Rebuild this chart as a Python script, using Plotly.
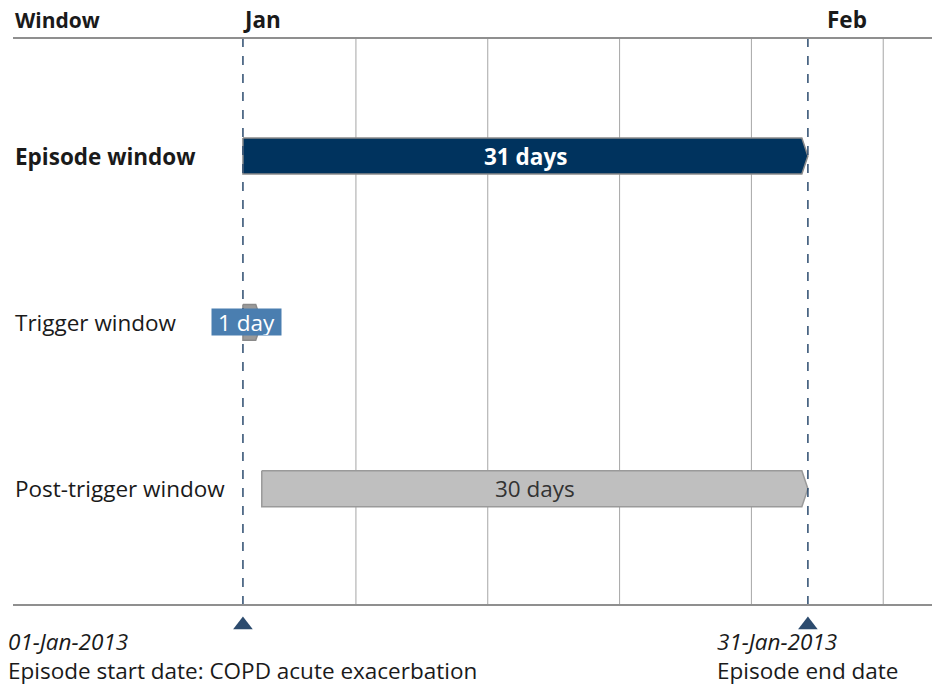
import pandas as pd
import plotly.graph_objects as go

# ---- data ----
windows = ["Episode window", "Trigger window", "Post-trigger window"]
starts = ["2013-01-01", "2013-01-01", "2013-01-02"]
ends = ["2013-01-31", "2013-01-02", "2013-01-31"]
durations = ["31 days", "1 day", "30 days"]
row_pos = [2, 1, 0]
event_dates = ["2013-01-01", "2013-01-31"]
event_dates_text = ["01-Jan-2013", "31-Jan-2013"]
event_labels = ["Episode start date: COPD acute exacerbation", "Episode end date"]
month_ticks = ["2013-01-01", "2013-02-01"]
month_labels = ["Jan", "Feb"]
grid_dates = ["2013-01-07", "2013-01-14", "2013-01-21", "2013-01-28", "2013-02-04"]

# ---- styling ----
FONT = "Open Sans"
FS = 22.5
TXT = "#1a1a1a"
HALF_H = 0.108
TIP = pd.Timedelta(hours=7.7)
Y_LO, Y_HI = -1.0, 2.71       # axis range
Y_RULE = -0.7                 # bottom rule
Y_TRI = -0.82
P_HEAD = 1.0292               # paper positions
P_EVENT = -0.002

fills = ["#00335e", "#9a9a9a", "#bfbfbf"]
lines = ["#8a8a8a", "#8a8a8a", "#9a9a9a"]

fig = go.Figure()

# gridlines
for g in grid_dates:
    fig.add_shape(type="line", xref="x", yref="y", x0=g, x1=g, y0=Y_RULE, y1=Y_HI,
                  line=dict(color="#a6a6a6", width=1), layer="below")

# bars as arrow polygons
for i, (s, e, y) in enumerate(zip(starts, ends, row_pos)):
    s_ts, e_ts = pd.Timestamp(s), pd.Timestamp(e)
    xs = [s_ts, e_ts - TIP, e_ts, e_ts - TIP, s_ts, s_ts]
    ys = [y + HALF_H, y + HALF_H, y, y - HALF_H, y - HALF_H, y + HALF_H]
    fig.add_trace(go.Scatter(x=xs, y=ys, mode="lines", fill="toself",
                             fillcolor=fills[i], line=dict(color=lines[i], width=1.5),
                             hoverinfo="skip", showlegend=False))

# dashed event lines
for d in event_dates:
    fig.add_shape(type="line", xref="x", yref="y", x0=d, x1=d, y0=Y_RULE, y1=Y_HI,
                  line=dict(color="#2c4b6e", width=1.5, dash="dash"), layer="above")

# triangles under axis
fig.add_trace(go.Scatter(x=event_dates, y=[Y_TRI] * len(event_dates), mode="markers",
                         marker=dict(symbol="triangle-up", size=17, color="#2c4b6e"),
                         hoverinfo="skip", showlegend=False))

# duration labels
lab_styles = [
    dict(color="white", bold=True, bg=None),
    dict(color="white", bold=False, bg="#4a7eb0"),
    dict(color="#333333", bold=False, bg=None),
]
for i, (s, e, y, t) in enumerate(zip(starts, ends, row_pos, durations)):
    s_ts, e_ts = pd.Timestamp(s), pd.Timestamp(e)
    st = lab_styles[i]
    txt = f"<b>{t}</b>" if st["bold"] else t
    if st["bg"]:
        xm = s_ts + (e_ts - s_ts) * 0.19
        fig.add_annotation(x=xm, y=y, xref="x", yref="y", text=txt, showarrow=False,
                           font=dict(family=FONT, size=FS, color=st["color"]),
                           bgcolor=st["bg"], borderpad=0, width=69, height=26,
                           xanchor="center", yanchor="middle", valign="middle")
    else:
        xm = s_ts + (e_ts - s_ts) / 2
        fig.add_annotation(x=xm, y=y, xref="x", yref="y", text=txt, showarrow=False,
                           font=dict(family=FONT, size=FS, color=st["color"]),
                           xanchor="center", yanchor="middle")

# row labels
for i, (w, y) in enumerate(zip(windows, row_pos)):
    txt = f"<b>{w}</b>" if i == 0 else w
    fig.add_annotation(x=0, xref="paper", y=y, yref="y", text=txt, showarrow=False,
                       xanchor="left", yanchor="middle",
                       font=dict(family=FONT, size=FS, color=TXT))

# header
fig.add_annotation(x=0, xref="paper", y=P_HEAD, yref="paper", text="<b>Window</b>",
                   showarrow=False, xanchor="left", yanchor="middle",
                   font=dict(family=FONT, size=21, color=TXT))
for m, lab in zip(month_ticks, month_labels):
    fig.add_annotation(x=m, xref="x", y=P_HEAD, yref="paper", text=f"<b>{lab}</b>",
                       showarrow=False, xanchor="left", yanchor="middle", xshift=-2,
                       font=dict(family=FONT, size=FS, color=TXT))

# bottom event annotations (two lines, left-aligned, block centred on the date)
for d, dt, lab in zip(event_dates, event_dates_text, event_labels):
    fig.add_annotation(x=d, xref="x", y=P_EVENT, yref="paper",
                       text=f"<i>{dt}</i><br>{lab}", showarrow=False,
                       xanchor="center", yanchor="middle", align="left",
                       font=dict(family=FONT, size=FS, color=TXT))

# top and bottom rules
fig.add_shape(type="line", xref="paper", yref="paper", x0=0, x1=1, y0=1, y1=1,
              line=dict(color="#8f8f8f", width=2), layer="above")
fig.add_shape(type="line", xref="paper", yref="y", x0=0, x1=1, y0=Y_RULE, y1=Y_RULE,
              line=dict(color="#8f8f8f", width=2), layer="above")

x0 = pd.Timestamp("2013-01-01") - pd.Timedelta(days=12.21)
x1 = pd.Timestamp("2013-01-01") + pd.Timedelta(days=36.59)

fig.update_xaxes(type="date", range=[x0, x1], showgrid=False, showticklabels=False,
                 zeroline=False, showline=False, ticks="")
fig.update_yaxes(range=[Y_LO, Y_HI], showgrid=False, showticklabels=False,
                 zeroline=False, showline=False, ticks="")

fig.update_layout(width=932, height=688,
                  margin=dict(l=13, r=0, t=38, b=33),
                  paper_bgcolor="white", plot_bgcolor="white",
                  font=dict(family=FONT), showlegend=False)

fig.write_html("out.html", config={"displayModeBar": False},
               post_script="document.body.style.margin='0';document.body.style.overflow='hidden';")
